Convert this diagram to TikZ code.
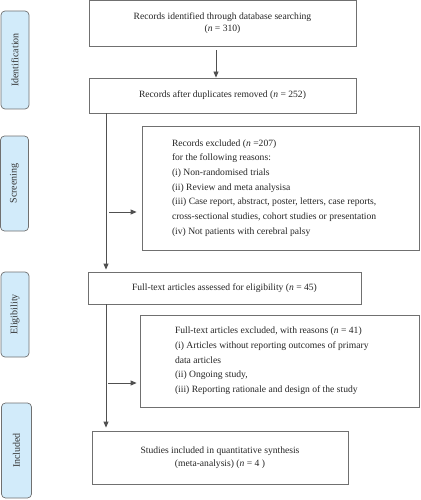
\documentclass[tikz,border=0pt]{standalone}
\usepackage{fontspec}
\setmainfont{Liberation Serif}
\usetikzlibrary{arrows.meta}
\definecolor{bordergray}{HTML}{707070}
\definecolor{linegray}{HTML}{505050}
\definecolor{labelfill}{HTML}{D2EBFA}
\definecolor{labeltext}{HTML}{333333}
\begin{document}
\begin{tikzpicture}[x=1pt,y=-1pt,
  box/.style={draw=bordergray,line width=0.8pt,fill=white,inner sep=0pt,align=center,font=\fontsize{9.6}{12.5}\selectfont,text=black!85},
  exbox/.style={draw=bordergray,line width=0.8pt,fill=white,inner xsep=0pt,inner ysep=0pt,font=\fontsize{9.6}{14.7}\selectfont,text=black!85},
  stage/.style={draw=bordergray,line width=0.7pt,fill=labelfill,rounded corners=4pt,minimum width=28pt,inner sep=0pt},
  stagetext/.style={rotate=90,font=\fontsize{10}{12}\selectfont,text=labeltext},
  arr/.style={draw=linegray,line width=0.8pt,-{Triangle[length=6pt,width=5pt]}},
  ln/.style={draw=linegray,line width=0.8pt}
]
\useasboundingbox (0,0) rectangle (420,500);

% stage labels
\node[stage,minimum height=98pt] (sid) at (15,60) {};
\node[stagetext] (tid) at (sid.center) {Identification};
\node[stage,minimum height=95pt] (ssc) at (14.5,183.5) {};
\node[stagetext] (tsc) at (ssc.center) {Screening};
\node[stage,minimum height=85pt] (sel) at (15,314.5) {};
\node[stagetext] (tel) at (sel.center) {Eligibility};
\node[stage,minimum height=95pt,minimum width=30pt] (sin) at (16.5,450.5) {};
\node[stagetext] (tin) at (sin.center) {Included};

% main boxes
\node[box,minimum width=267pt,minimum height=46pt] (id) at (222.5,23)
  {Records identified through database searching\\(\textit{n} = 310)};
\node[box,minimum width=267pt,minimum height=35pt] (dup) at (222.5,95.5)
  {Records after duplicates removed (\textit{n} = 252)};
\node[exbox,minimum width=277pt,minimum height=124pt] (ex1) at (280.5,188)
  {\hspace*{30pt}\begin{minipage}{240pt}\fontsize{9.6}{14.7}\selectfont
  Records excluded (\textit{n} =207)\\
  for the following reasons:\\
  (i) Non-randomised trials\\
  (ii) Review and meta analysisa\\
  (iii) Case report, abstract, poster, letters, case reports,\\
  cross-sectional studies, cohort studies or presentation\\
  (iv) Not patients with cerebral palsy\end{minipage}\hspace*{7pt}};
\node[box,minimum width=273pt,minimum height=32pt] (full) at (224.5,288)
  {Full-text articles assessed for eligibility (\textit{n} = 45)};
\node[exbox,minimum width=279pt,minimum height=92pt] (ex2) at (279.5,361)
  {\hspace*{35pt}\begin{minipage}{240pt}\fontsize{9.6}{14.7}\selectfont
  Full-text articles excluded, with reasons (\textit{n} = 41)\\
  (i) Articles without reporting outcomes of primary\\
  data articles\\
  (ii) Ongoing study,\\
  (iii) Reporting rationale and design of the study\end{minipage}\hspace*{4pt}};
\node[box,minimum width=256pt,minimum height=53pt] (inc) at (220,457.5)
  {Studies included in quantitative synthesis\\(meta-analysis) (\textit{n} = 4 )};

% connectors
\coordinate (c1) at (216,0);
\coordinate (sp) at (106,0);
\coordinate (h1) at (0,212);
\coordinate (h2) at (0,383);
\draw[arr,shorten <=4pt] (id.south -| c1) -- (dup.north -| c1);
\draw[arr,shorten >=2pt] (dup.south -| sp) -- (full.north -| sp);
\draw[arr,shorten >=5pt] (sp |- h1) ++(3,0) -- (ex1.west |- h1);
\draw[arr,shorten >=3pt] (full.south -| sp) -- (inc.north -| sp);
\draw[arr,shorten >=3pt] (sp |- h2) ++(2,0) -- (ex2.west |- h2);
\end{tikzpicture}
\end{document}
